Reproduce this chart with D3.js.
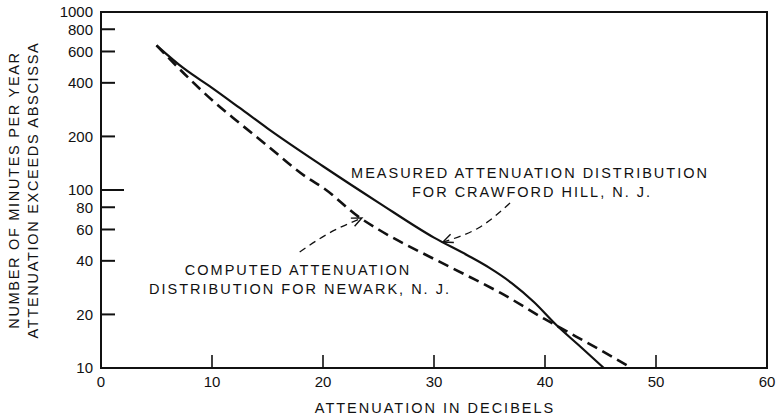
<!DOCTYPE html>
<html>
<head>
<meta charset="utf-8">
<script src="https://cdn.jsdelivr.net/npm/d3@7"></script>
<style>
  body { margin: 0; background: #fff; }
  svg { display: block; }
  text { font-family: "Liberation Sans", Arial, sans-serif; fill: #111; }
</style>
</head>
<body>
<div id="chart"></div>
<script>
// values
const measured_db = [5, 7.5, 10, 12.5, 15, 20, 25, 30, 33, 35, 37, 39, 41, 43, 45.3];
const measured_min = [650, 480, 375, 289, 222, 136, 85, 54, 43, 36.5, 30, 23.5, 17.5, 13.5, 10];
const computed_db = [5, 7.5, 10, 12.5, 15, 18.6, 20, 23.3, 25, 30, 33, 36, 40, 41.4, 45, 47.8];
const computed_min = [650, 450, 320, 237, 177, 117, 103, 70, 60, 41, 33, 26.4, 18.8, 16.8, 12.6, 10];
const x_ticks = [0, 10, 20, 30, 40, 50, 60];
const y_ticks = [10, 20, 40, 60, 80, 100, 200, 400, 600, 800, 1000];

// leader arrows, in data units: [db, minutes]
const measured_leader = [[36.85, 84.5], [34.0, 61.2], [30.8, 51]];
const computed_leader = [[17.9, 44.8], [20.6, 57.5], [23.5, 69.6]];

const width = 778, height = 419;
const svg = d3.select('#chart').append('svg')
    .attr('width', width)
    .attr('height', height);

const x = d3.scaleLinear().domain([0, 60]).range([101, 767]);
const y = d3.scaleLog().domain([10, 1000]).range([368, 12]);

// frame
svg.append('rect')
    .attr('x', x(0)).attr('y', y(1000))
    .attr('width', x(60) - x(0)).attr('height', y(10) - y(1000))
    .style('fill', 'none').style('stroke', '#111').style('stroke-width', 2);

// y ticks (inside)
y_ticks.forEach(function (t) {
    if (t !== 10 && t !== 1000) {
        svg.append('line')
            .attr('x1', x(0)).attr('x2', x(0) + (t === 100 ? 23 : 14))
            .attr('y1', y(t)).attr('y2', y(t))
            .style('stroke', '#111').style('stroke-width', 2);
    }
    svg.append('text')
        .attr('x', 93).attr('y', y(t))
        .attr('dy', '0.36em')
        .style('text-anchor', 'end')
        .style('font-size', '15px')
        .text(t);
});

// x ticks (inside)
x_ticks.forEach(function (t) {
    if (t !== 0 && t !== 60) {
        svg.append('line')
            .attr('x1', x(t)).attr('x2', x(t))
            .attr('y1', y(10)).attr('y2', y(10) - 13)
            .style('stroke', '#111').style('stroke-width', 1.6);
    }
    svg.append('text')
        .attr('x', x(t)).attr('y', 387)
        .style('text-anchor', 'middle')
        .style('font-size', '15px')
        .text(t);
});

// axis titles
svg.append('text')
    .attr('x', 435).attr('y', 413)
    .style('text-anchor', 'middle')
    .style('font-size', '14.5px')
    .style('letter-spacing', '2px')
    .text('ATTENUATION IN DECIBELS');

[['NUMBER OF MINUTES PER YEAR', 19], ['ATTENUATION EXCEEDS ABSCISSA', 38]].forEach(function (d) {
    svg.append('text')
        .attr('transform', 'translate(' + d[1] + ',190) rotate(-90)')
        .style('text-anchor', 'middle')
        .style('font-size', '14.5px')
        .style('letter-spacing', '1.7px')
        .text(d[0]);
});

// curves
const curve_line = d3.line()
    .x(d => x(d[0]))
    .y(d => y(d[1]))
    .curve(d3.curveMonotoneX);

svg.append('path')
    .datum(d3.zip(measured_db, measured_min))
    .attr('d', curve_line)
    .style('fill', 'none').style('stroke', '#111').style('stroke-width', 2.2);

svg.append('path')
    .datum(d3.zip(computed_db, computed_min))
    .attr('d', curve_line)
    .style('fill', 'none').style('stroke', '#111').style('stroke-width', 2.6)
    .style('stroke-dasharray', '11,6');

// leaders
const leader_line = d3.line()
    .x(d => x(d[0]))
    .y(d => y(d[1]))
    .curve(d3.curveNatural);

[measured_leader, computed_leader].forEach(function (pts) {
    svg.append('path')
        .datum(pts)
        .attr('d', leader_line)
        .style('fill', 'none').style('stroke', '#111').style('stroke-width', 1.3)
        .style('stroke-dasharray', '7,5');

    const tip = pts[pts.length - 1], prev = pts[pts.length - 2];
    const tx = x(tip[0]), ty = y(tip[1]);
    const ang = Math.atan2(ty - y(prev[1]), tx - x(prev[0]));
    const len = 11, spread = 0.42;
    const head = [ang + Math.PI - spread, ang + Math.PI + spread].map(a =>
        [tx + len * Math.cos(a), ty + len * Math.sin(a)]);
    svg.append('path')
        .attr('d', 'M' + head[0] + 'L' + tx + ',' + ty + 'L' + head[1])
        .style('fill', 'none').style('stroke', '#111').style('stroke-width', 1.4);
});

// labels
const labels = [
    ['MEASURED ATTENUATION DISTRIBUTION', 530, 178],
    ['FOR CRAWFORD HILL, N. J.', 532, 197],
    ['COMPUTED ATTENUATION', 298, 275],
    ['DISTRIBUTION FOR NEWARK, N. J.', 300, 294]
];
labels.forEach(function (l) {
    svg.append('text')
        .attr('x', l[1]).attr('y', l[2])
        .style('text-anchor', 'middle')
        .style('font-size', '14.5px')
        .style('letter-spacing', '2px')
        .text(l[0]);
});
</script>
</body>
</html>
